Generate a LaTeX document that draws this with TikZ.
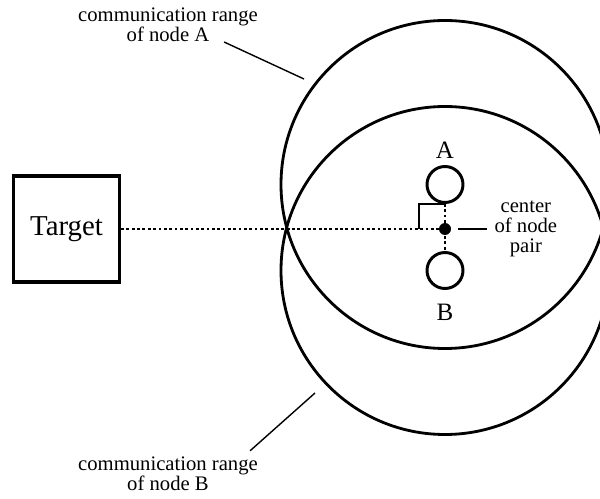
\documentclass[tikz,border=0pt]{standalone}
\usepackage{fontspec}
\setmainfont{Liberation Serif}
\usetikzlibrary{positioning}

\begin{document}
\begin{tikzpicture}[
                node distance=0.15cm,
                sensor/.style={draw, circle, line width=2.1pt, minimum size=0.9cm, inner sep=0pt},
                ctr/.style={fill, circle, minimum size=0.3cm, inner sep=0pt},
                tgt/.style={draw, line width=2.3pt, minimum size=2.65cm, inner sep=0pt,
                            font=\fontsize{20.5}{24}\selectfont},
                lbl/.style={inner sep=0pt, align=center, font=\fontsize{14.7}{14.2}\selectfont},
                letter/.style={inner sep=0pt, font=\fontsize{17.8}{20}\selectfont},
                commrange/.style={line width=2pt},
                sight/.style={line width=2pt, dash pattern=on 2pt off 1.8pt},
                leader/.style={line width=1pt},
                rightang/.style={line width=1.4pt}]
                \clip (0,0) rectangle (15,-12.475);
                % node pair and its midpoint
                \node[ctr] (mid) at (11.125,-5.725) {};
                \node[sensor] (nA) at (11.125,-4.6125) {};
                \node[sensor] (nB) at (11.125,-6.7625) {};
                \node[letter, above=0.16cm of nA] (lA) {A};
                \node[letter, below=0.34cm of nB] (lB) {B};
                \node[tgt] (target) at (1.6625,-5.725) {Target};
                \node[lbl, font=\fontsize{14.7}{14}\selectfont, right=1.075cm of mid] (pair) {center\\of node\\pair};
                % ranges
                \draw[commrange] (nA.center) circle[radius=4.1cm];
                \draw[commrange] (nB.center) circle[radius=4.1cm];
                \draw[sight] (target) -- (mid.center);
                \draw[sight] (nA) -- (nB);
                \draw[rightang] ([xshift=-0.65cm]mid.center) |- ([yshift=0.625cm]mid.center);
                \draw[leader, shorten <=0.18cm, shorten >=0.175cm] (mid) -- (pair);
                % labels for the two ranges
                \node[lbl] (rangeA) at (4.2,-0.62) {communication range\\of node A};
                \node[lbl] (rangeB) at (4.2,-11.85) {communication range\\of node B};
                \coordinate (tipA) at (7.6,-1.975);
                \coordinate (tipB) at (7.875,-9.825);
                \draw[leader] ([xshift=-0.85cm]rangeA.south east) -- (tipA);
                \draw[leader] ([xshift=-0.2cm, yshift=0.15cm]rangeB.north east) -- (tipB);
            \end{tikzpicture}
\end{document}
